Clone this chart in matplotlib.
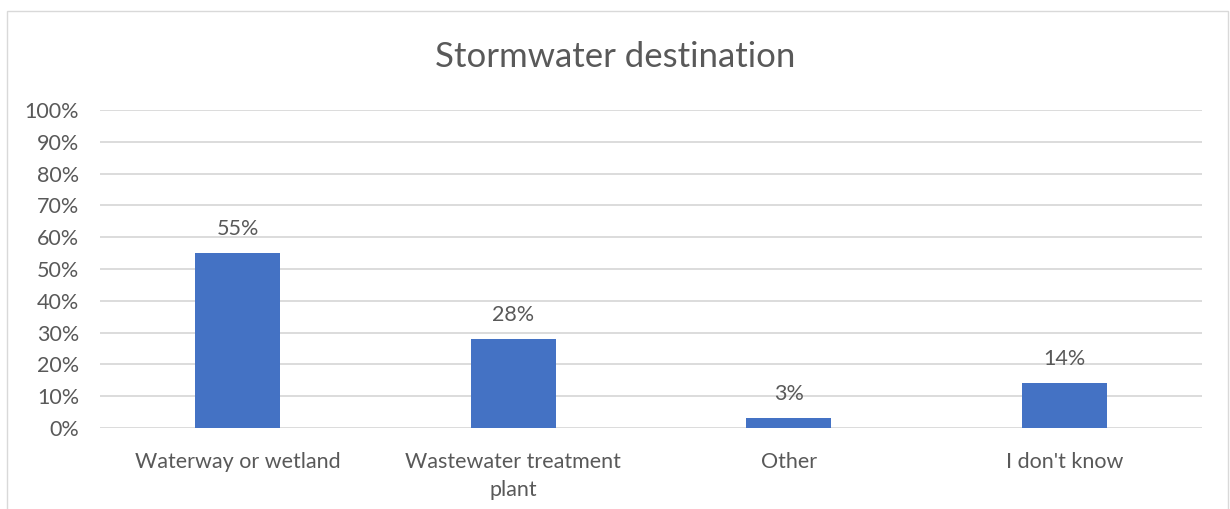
import matplotlib.pyplot as plt
from matplotlib.patches import Rectangle
from matplotlib.ticker import PercentFormatter

categories = ["Waterway or wetland", "Wastewater treatment\nplant", "Other", "I don't know"]
values = [55, 28, 3, 14]
yticks = list(range(0, 101, 10))

plt.rcParams['font.family'] = ['Lato', 'DejaVu Sans']
txt = '#595959'

fig = plt.figure(figsize=(12.3, 5.09), dpi=100)
ax = fig.add_axes([100 / 1230, 81 / 509, 1102 / 1230, 318 / 509])

x = range(len(categories))
ax.bar(x, values, width=0.31, color='#4472C4', zorder=3)
for xi, v in zip(x, values):
    ax.text(xi, v + 4.4, f"{v}%", ha='center', va='bottom', fontsize=15.5, color=txt)

ax.set_xlim(-0.5, len(categories) - 0.5)
ax.set_ylim(0, 100)
ax.set_yticks(yticks)
ax.yaxis.set_major_formatter(PercentFormatter(decimals=0))
ax.set_xticks(list(x))
ax.set_xticklabels(categories, fontsize=15.5, color=txt, linespacing=1.55)
ax.tick_params(axis='y', labelsize=15.5, labelcolor=txt, length=0, pad=15)
ax.tick_params(axis='x', length=0, pad=17)
for lbl in ax.get_yticklabels():
    lbl.set_horizontalalignment('right')
ax.grid(axis='y', color='#D9D9D9', linewidth=1.3, zorder=0)
for s in ax.spines.values():
    s.set_visible(False)

fig.text(0.5, 1 - 57 / 509, "Stormwater destination", ha='center', va='center',
         fontsize=25, color=txt)

# chart frame
fig.patches.append(Rectangle((7 / 1230, -0.1), 1221 / 1230, 1.1 - 11 / 509,
                             transform=fig.transFigure, fill=False,
                             edgecolor='#D9D9D9', linewidth=1))

fig.savefig('out.png', dpi=100)
